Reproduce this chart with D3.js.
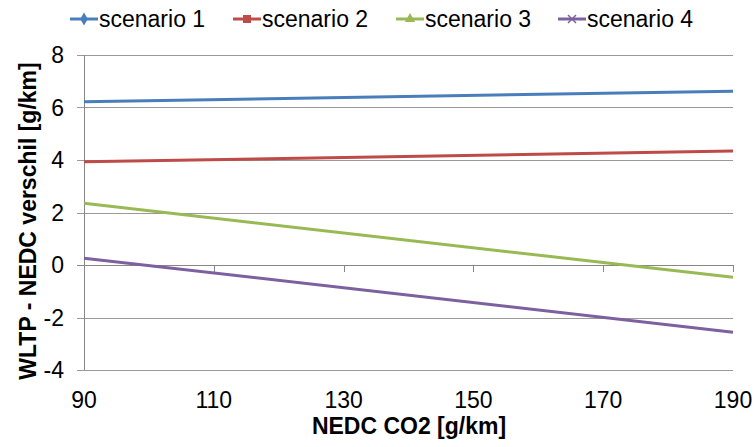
<!DOCTYPE html>
<html><head><meta charset="utf-8">
<script src="https://cdn.jsdelivr.net/npm/d3@7/dist/d3.min.js"></script>
<style>
html,body{margin:0;padding:0;background:#fff;}
svg{display:block;font-family:"Liberation Sans",Arial,sans-serif;}
</style></head>
<body>
<svg id="chart" width="755" height="447"></svg>
<script>
// ---- data ----
const seriesNames = ["scenario 1", "scenario 2", "scenario 3", "scenario 4"];
const seriesColors = ["#4A7EBB", "#BE4B48", "#98B954", "#7D60A0"];
const seriesMarkers = ["diamond", "square", "triangle", "cross"];
const xValues = [90, 190];
const scenario1 = [6.22, 6.62];
const scenario2 = [3.93, 4.34];
const scenario3 = [2.35, -0.47];
const scenario4 = [0.26, -2.56];
const xTicks = [90, 110, 130, 150, 170, 190];
const yTicks = [-4, -2, 0, 2, 4, 6, 8];
const xTitle = "NEDC CO2 [g/km]";
const yTitle = "WLTP - NEDC verschil [g/km]";

const allSeries = [scenario1, scenario2, scenario3, scenario4];

const svg = d3.select("#chart");
const x = d3.scaleLinear().domain([90, 190]).range([84, 733]);
const y = d3.scaleLinear().domain([-4, 8]).range([370, 55]);

// gridlines (extend left as y-axis ticks)
svg.append("g").selectAll("line").data(yTicks).join("line")
  .attr("x1", 77).attr("x2", x(190))
  .attr("y1", d => Math.round(y(d)) + 0.5).attr("y2", d => Math.round(y(d)) + 0.5)
  .attr("stroke", d => d === 0 ? "#868686" : "#999999").attr("stroke-width", 1);

// y axis line
svg.append("line")
  .attr("x1", x(90) + 0.5).attr("x2", x(90) + 0.5)
  .attr("y1", y(8)).attr("y2", y(-4))
  .attr("stroke", "#868686");

// x axis ticks at y=0
svg.append("g").selectAll("line").data(xTicks).join("line")
  .attr("x1", d => Math.round(x(d)) + 0.5).attr("x2", d => Math.round(x(d)) + 0.5)
  .attr("y1", y(0)).attr("y2", y(0) + 7)
  .attr("stroke", "#868686");

// y tick labels
svg.append("g").selectAll("text").data(yTicks).join("text")
  .attr("x", 64).attr("y", d => y(d)).attr("dy", "0.36em")
  .attr("text-anchor", "end").attr("font-size", 23).attr("fill", "#000")
  .text(d => d);

// x tick labels
svg.append("g").selectAll("text").data(xTicks).join("text")
  .attr("x", d => x(d)).attr("y", 408)
  .attr("text-anchor", "middle").attr("font-size", 23).attr("fill", "#000")
  .text(d => d);

// axis titles
svg.append("text").attr("x", 409).attr("y", 434)
  .attr("text-anchor", "middle").attr("font-size", 23).attr("font-weight", "bold")
  .text(xTitle);
svg.append("text").attr("transform", "translate(36,221) rotate(-90)")
  .attr("text-anchor", "middle").attr("font-size", 23).attr("font-weight", "bold")
  .text(yTitle);

// lines
const line = d3.line().x((d, i) => x(xValues[i])).y(d => y(d));
allSeries.forEach((s, k) => {
  svg.append("path").datum(s).attr("d", line)
    .attr("fill", "none").attr("stroke", seriesColors[k]).attr("stroke-width", 3);
});

// legend
const legendX = [70, 233, 396, 558];
const legendY = 19;
function marker(g, type, color, cx, cy) {
  if (type === "diamond") {
    g.append("path").attr("d", d3.symbol(d3.symbolDiamond, 50)()).attr("transform", `translate(${cx},${cy})`).attr("fill", color);
  } else if (type === "square") {
    g.append("rect").attr("x", cx - 4).attr("y", cy - 4).attr("width", 8).attr("height", 8).attr("fill", color);
  } else if (type === "triangle") {
    g.append("path").attr("d", d3.symbol(d3.symbolTriangle, 45)()).attr("transform", `translate(${cx},${cy})`).attr("fill", color);
  } else {
    g.append("path").attr("d", `M${cx-4},${cy-4}L${cx+4},${cy+4}M${cx-4},${cy+4}L${cx+4},${cy-4}`).attr("stroke", color).attr("stroke-width", 1.5);
  }
}
seriesNames.forEach((name, k) => {
  const g = svg.append("g");
  const x0 = legendX[k];
  g.append("line").attr("x1", x0).attr("x2", x0 + 28).attr("y1", legendY).attr("y2", legendY)
    .attr("stroke", seriesColors[k]).attr("stroke-width", 3);
  marker(g, seriesMarkers[k], seriesColors[k], x0 + 14, legendY);
  g.append("text").attr("x", x0 + 29).attr("y", 27).attr("font-size", 23).attr("fill", "#000").text(name);
});
</script>
</body></html>
